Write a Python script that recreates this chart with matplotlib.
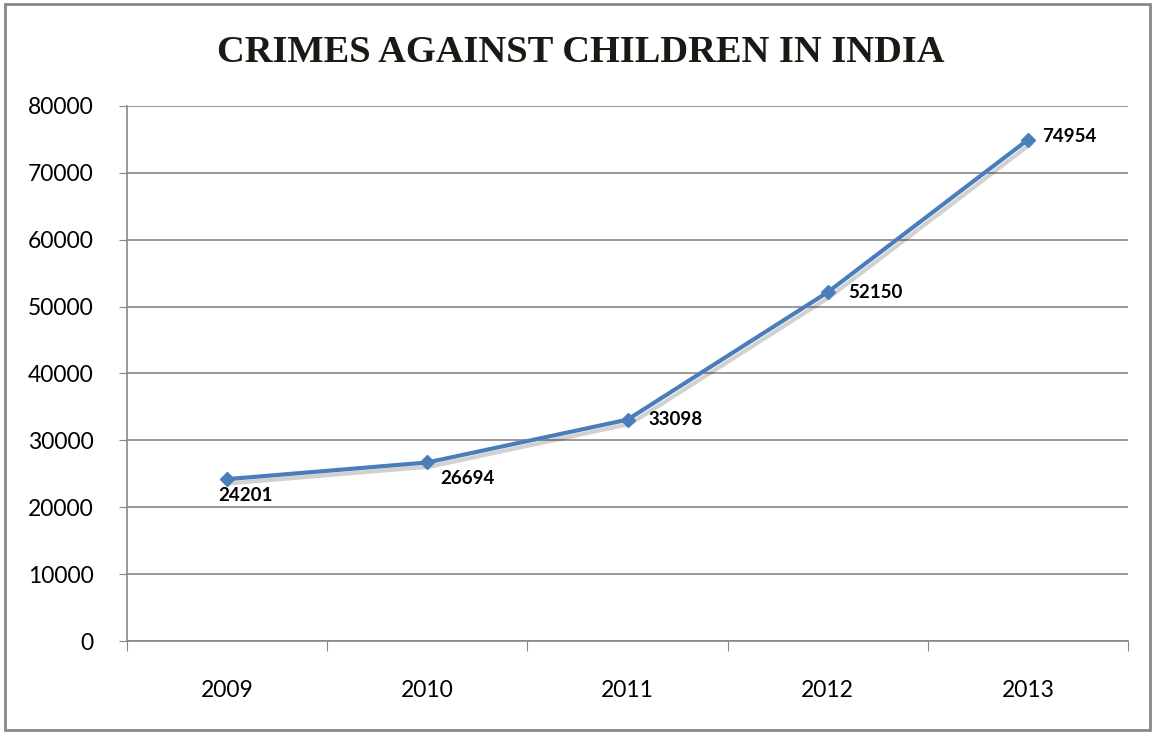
import matplotlib
matplotlib.use("Agg")
import matplotlib.pyplot as plt
import matplotlib.patheffects as pe
from matplotlib.patches import Rectangle

years = ["2009", "2010", "2011", "2012", "2013"]
crimes = [24201, 26694, 33098, 52150, 74954]
label_offsets = [(-6.5, -12), (9.5, -11.5), (15, 0), (15, 0), (10, 2)]
yticks = [0, 10000, 20000, 30000, 40000, 50000, 60000, 70000, 80000]

fig = plt.figure(figsize=(11.55, 7.34), dpi=100)
fig.patches.append(Rectangle((5/1155, 4/734), 1145/1155, 726/734, transform=fig.transFigure,
                             fill=False, edgecolor="#888888", linewidth=2))
ax = fig.add_axes([127/1155, 1-641/734, 1001/1155, 535/734])
x = list(range(len(years)))
ax.plot(x, crimes, color="#4A7EBB", linewidth=3, zorder=3,
        path_effects=[pe.SimpleLineShadow(offset=(2, -3), shadow_color="#000000", alpha=0.18, rho=0.3),
                      pe.Normal()])
ax.plot(x, crimes, linestyle="none", marker="D", markersize=7, color="#4A7EBB", zorder=4)
for xi, v, (dx, dy) in zip(x, crimes, label_offsets):
    ax.annotate(f"{v}", (xi, v), xytext=(dx, dy), textcoords="offset points",
                ha="left", va="center", fontsize=13.5, fontweight="bold", family="Lato", color="#000000")

ax.set_xlim(-0.5, 4.5)
ax.set_ylim(0, 80000)
ax.set_yticks(yticks)
ax.set_yticklabels([str(t) for t in yticks])
ax.set_xticks([i - 0.5 for i in range(len(years) + 1)])
ax.set_xticklabels([])
ax.set_xticks(x, minor=True)
ax.set_xticklabels(years, minor=True)
ax.tick_params(axis="x", which="minor", length=0, pad=28, labelsize=16.5)
ax.tick_params(axis="x", which="major", length=7, color="#888888", direction="out")
ax.tick_params(axis="y", length=6, color="#888888", labelsize=16.5, pad=18)
for lab in ax.get_xticklabels(minor=True) + ax.get_yticklabels():
    lab.set_family("Lato")
ax.grid(axis="y", color="#888888", linewidth=1.2)
ax.set_axisbelow(True)
for s in ["top", "right"]:
    ax.spines[s].set_visible(False)
for s in ["left", "bottom"]:
    ax.spines[s].set_color("#888888")
    ax.spines[s].set_linewidth(1.2)

fig.text(581/1155, 1-52/734, "CRIMES AGAINST CHILDREN IN INDIA", ha="center", va="center",
         fontsize=27.7, fontweight="bold", family="Liberation Serif", color="#1c1914")

fig.savefig("out.png", dpi=100)
